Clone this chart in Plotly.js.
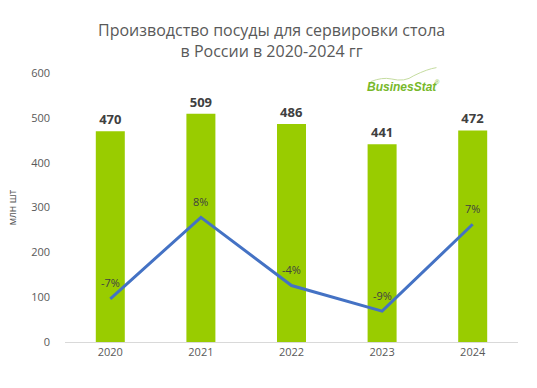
<!DOCTYPE html>
<html>
<head>
<meta charset="utf-8">
<script src="https://cdn.plot.ly/plotly-3.0.1.min.js"></script>
<style>
html,body{margin:0;padding:0;background:#fff;}
#chart{width:537px;height:388px;}
</style>
</head>
<body>
<div id="chart"></div>
<script>
var years = ['2020', '2021', '2022', '2023', '2024'];
var production = [470, 509, 486, 441, 472];
var growth = [-7.0, 8.3, -4.5, -9.3, 7.0];
var yTicks = [0, 100, 200, 300, 400, 500, 600];
var titleText = 'Производство посуды для сервировки стола<br>в России в 2020-2024 гг';

var FONT = 'Open Sans, sans-serif';

var bars = {
  type: 'bar',
  x: years,
  y: production,
  width: 0.32,
  marker: {color: '#99cc00'},
  text: production.map(String),
  textposition: 'outside',
  cliponaxis: false,
  textfont: {family: FONT, size: 13, color: '#404040', weight: 'bold'},
  hoverinfo: 'none',
  showlegend: false
};

var line = {
  type: 'scatter',
  mode: 'lines',
  x: years,
  y: growth,
  yaxis: 'y2',
  line: {color: '#4472c4', width: 3},
  cliponaxis: false,
  hoverinfo: 'none',
  showlegend: false
};

// category index i corresponds to years[i] on the category x axis
var annotations = years.map(function(yr, i){
  return {
    xref: 'x', yref: 'y2',
    x: i, y: growth[i],
    text: Math.round(growth[i]) + '%',
    showarrow: false,
    xanchor: 'center', yanchor: 'middle',
    yshift: 16,
    font: {family: FONT, size: 11, color: '#404040'}
  };
});

annotations.push({
  xref: 'paper', yref: 'paper',
  x: 0.455, y: 1.119,
  xanchor: 'center', yanchor: 'middle',
  text: titleText,
  showarrow: false,
  font: {family: FONT, size: 16, color: '#595959'}
});

annotations.push({
  xref: 'paper', yref: 'paper',
  x: 0.745, y: 0.948,
  xanchor: 'center', yanchor: 'middle',
  text: '<b><i>BusinesStat</i></b>',
  showarrow: false,
  font: {family: 'Liberation Sans, sans-serif', size: 12, color: '#77b82a'}
});
annotations.push({
  xref: 'paper', yref: 'paper',
  x: 0.822, y: 0.968,
  xanchor: 'center', yanchor: 'middle',
  text: '®',
  showarrow: false,
  font: {family: 'Liberation Sans, sans-serif', size: 6, color: '#77b82a'}
});

var layout = {
  width: 537,
  height: 388,
  margin: {l: 65, r: 19, t: 73, b: 46},
  paper_bgcolor: '#ffffff',
  plot_bgcolor: '#ffffff',
  xaxis: {
    type: 'category',
    showline: true,
    linecolor: '#d9d9d9',
    linewidth: 1,
    ticks: '',
    tickfont: {family: FONT, size: 11, color: '#595959'},
    showgrid: false,
    zeroline: false
  },
  yaxis: {
    range: [0, 600],
    tickvals: yTicks,
    ticktext: yTicks.map(String),
    showgrid: false,
    zeroline: false,
    showline: false,
    ticks: '',
    ticklabelstandoff: 14,
    tickfont: {family: FONT, size: 11, color: '#595959'},
    title: {text: 'млн шт', font: {family: FONT, size: 10, color: '#595959'}, standoff: 12}
  },
  yaxis2: {
    overlaying: 'y',
    side: 'right',
    range: [-15.1, 35.4],
    visible: false,
    showgrid: false,
    zeroline: false
  },
  annotations: annotations,
  shapes: [{
    type: 'path',
    xref: 'paper', yref: 'paper',
    path: 'M 0.675 0.968 Q 0.70 0.985 0.72 0.978 Q 0.75 0.965 0.77 0.99 Q 0.80 1.015 0.82 1.02',
    line: {color: '#c5dca0', width: 1}
  }]
};

Plotly.newPlot('chart', [bars, line], layout, {displayModeBar: false, staticPlot: true});
</script>
</body>
</html>
